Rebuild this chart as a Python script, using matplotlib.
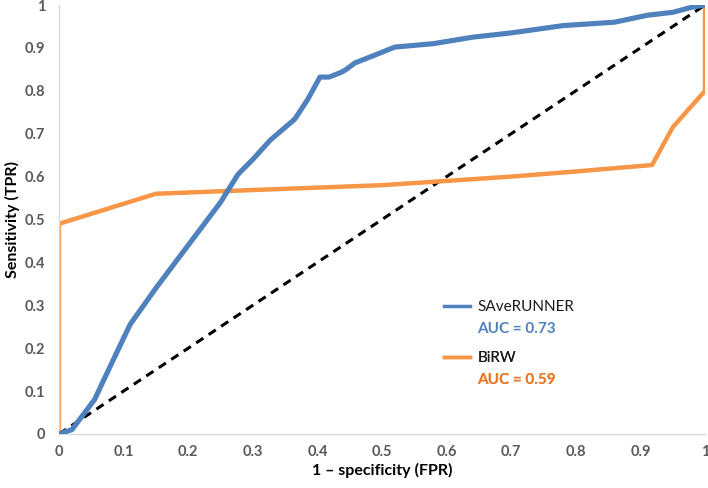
import matplotlib
matplotlib.use("Agg")
import matplotlib.pyplot as plt
from matplotlib.lines import Line2D

plt.rcParams['font.family'] = ['Lato', 'DejaVu Sans']

# ROC curve of SAveRUNNER
saverunner_fpr = [0.0, 0.01, 0.02, 0.055, 0.08, 0.11, 0.15, 0.2, 0.25, 0.277, 0.3, 0.327,
                  0.365, 0.385, 0.404, 0.418, 0.435, 0.443, 0.458, 0.48, 0.52, 0.58, 0.64,
                  0.7, 0.78, 0.86, 0.91, 0.95, 0.98, 1.0]
saverunner_tpr = [0.0, 0.005, 0.01, 0.08, 0.16, 0.255, 0.34, 0.44, 0.54, 0.605, 0.64, 0.685,
                  0.734, 0.78, 0.832, 0.832, 0.842, 0.848, 0.865, 0.878, 0.902, 0.91, 0.925,
                  0.935, 0.952, 0.96, 0.976, 0.983, 0.995, 1.0]

# ROC curve of BiRW
birw_fpr = [0.0, 0.0, 0.15, 0.27, 0.5, 0.6, 0.7, 0.8, 0.918, 0.95, 1.0, 1.0]
birw_tpr = [0.0, 0.49, 0.56, 0.567, 0.58, 0.59, 0.6, 0.612, 0.627, 0.715, 0.8, 1.0]

curve_names = ['SAveRUNNER', 'BiRW']
auc_values = [0.73, 0.59]
ticks = [0, 0.1, 0.2, 0.3, 0.4, 0.5, 0.6, 0.7, 0.8, 0.9, 1]

blue = '#4F81BD'
orange = '#F79646'
orange_text = '#EB7A2A'
grey = '#595959'

fig = plt.figure(figsize=(7.08, 4.88), dpi=100)
ax = fig.add_axes([0.0833, 0.1107, 0.9125, 0.879])

ax.plot([0, 1], [0, 1], color='black', lw=2.2, ls=(0, (2.8, 2.1)), zorder=1)
ax.plot(birw_fpr, birw_tpr, color=orange, lw=3.2, solid_joinstyle='round', zorder=2)
ax.plot(saverunner_fpr, saverunner_tpr, color=blue, lw=3.7, solid_joinstyle='round', zorder=3)

ax.set_xlim(0, 1)
ax.set_ylim(0, 1)
ax.set_xticks(ticks)
ax.set_yticks(ticks)
ax.set_xticklabels([f'{t:g}' for t in ticks])
ax.set_yticklabels([f'{t:g}' for t in ticks])
ax.tick_params(length=0, labelsize=10.5, labelcolor=grey)
ax.tick_params(axis='x', pad=8)
ax.tick_params(axis='y', pad=10)
for lab in ax.get_xticklabels() + ax.get_yticklabels():
    lab.set_fontweight('bold')

for side in ['top', 'right']:
    ax.spines[side].set_visible(False)
for side in ['left', 'bottom']:
    ax.spines[side].set_color('#D9D9D9')
    ax.spines[side].set_linewidth(1)

ax.set_xlabel('1 \u2013 specificity (FPR)', fontsize=11.5, fontweight='bold', labelpad=3)
ax.set_ylabel('Sensitivity (TPR)', fontsize=11.5, fontweight='bold', labelpad=3)

# legends: one per curve, each with its AUC line underneath
def add_legend(name, auc, color, text_color, y_anchor):
    handles = [Line2D([], [], color=color, lw=2.5), Line2D([], [], color='none')]
    leg = ax.legend(handles, [name, f'AUC = {auc:.2f}'], loc='upper left',
                    bbox_to_anchor=(0.586, y_anchor), frameon=False, fontsize=11,
                    handlelength=1.7, handletextpad=0.5, labelspacing=0.5,
                    borderaxespad=0)
    texts = leg.get_texts()
    texts[0].set_color('#1A1A1A')
    texts[1].set_color(text_color)
    texts[1].set_fontweight('bold')
    ax.add_artist(leg)

add_legend(curve_names[0], auc_values[0], blue, blue, 0.326)
add_legend(curve_names[1], auc_values[1], orange, orange_text, 0.207)

fig.savefig('out.png', dpi=100)
